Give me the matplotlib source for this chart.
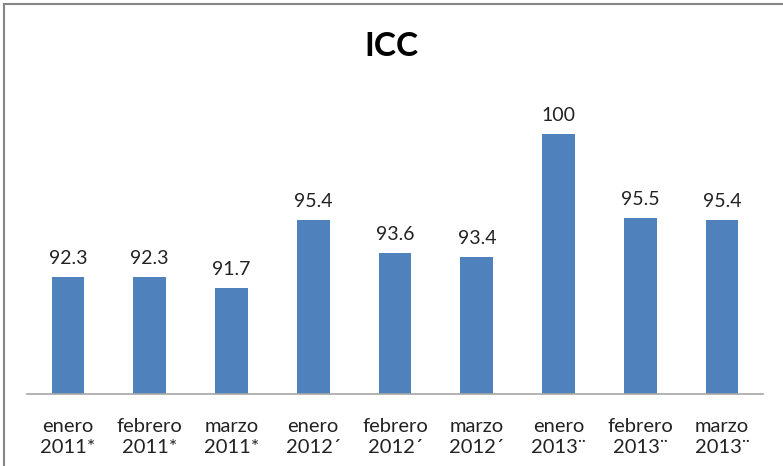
import matplotlib.pyplot as plt
from matplotlib.patches import Rectangle

plt.rcParams['font.family'] = ['Lato', 'DejaVu Sans']

categories = ['enero\n2011*', 'febrero\n2011*', 'marzo\n2011*',
              'enero\n2012\u00b4', 'febrero\n2012\u00b4', 'marzo\n2012\u00b4',
              'enero\n2013\u00a8', 'febrero\n2013\u00a8', 'marzo\n2013\u00a8']
values = [92.3, 92.3, 91.7, 95.4, 93.6, 93.4, 100, 95.5, 95.4]
value_labels = ['92.3', '92.3', '91.7', '95.4', '93.6', '93.4', '100', '95.5', '95.4']

fig = plt.figure(figsize=(7.83, 4.66), dpi=100)
ax = fig.add_axes([27 / 783, 1 - 394 / 466, 736 / 783, 297 / 466])

x = range(len(values))
bars = ax.bar(x, values, width=0.4, color='#4F81BD', bottom=0)
ax.set_ylim(86, 102)
ax.set_xlim(-0.5, len(values) - 0.5)

for xi, v, lab in zip(x, values, value_labels):
    ax.annotate(lab, (xi, v), xytext=(0, 7), textcoords='offset points',
                ha='center', va='bottom', fontsize=14, color='#222222')

ax.set_xticks(list(x))
ax.set_xticklabels(categories, fontsize=14.5, color='#222222', linespacing=1.3)
ax.tick_params(axis='x', length=0, pad=17)
ax.set_yticks([])
for s in ['top', 'right', 'left']:
    ax.spines[s].set_visible(False)
ax.spines['bottom'].set_color('#A6A6A6')
ax.spines['bottom'].set_linewidth(1.2)

fig.text(0.5, 1 - 47 / 466, 'ICC', ha='center', va='center',
         fontsize=24, fontweight='bold', color='black')

# chart frame (only left and top edges visible in the crop)
fig.add_artist(Rectangle((4 / 783, -0.05), 1.1, 1 - 4 / 466 + 0.05,
                         transform=fig.transFigure, fill=False,
                         edgecolor='#868686', linewidth=1.5))

fig.savefig('out.png', dpi=100)
